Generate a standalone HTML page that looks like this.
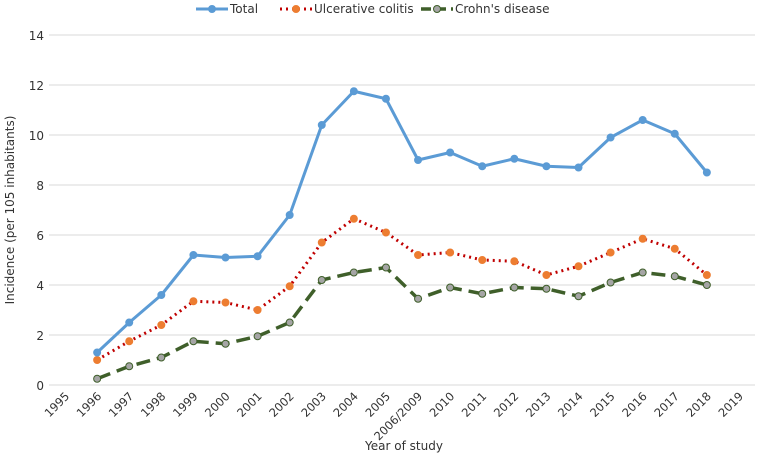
<!DOCTYPE html>
<html><head><meta charset="utf-8"><style>
body{margin:0;background:#fff;font-family:"Liberation Sans","DejaVu Sans",sans-serif;}
svg text{font-family:"DejaVu Sans","Liberation Sans",sans-serif;fill:#333;}
</style></head><body>
<svg id="c" width="758" height="456"></svg>
<script>
const categories=["1995","1996","1997","1998","1999","2000","2001","2002","2003","2004","2005","2006/2009","2010","2011","2012","2013","2014","2015","2016","2017","2018","2019"];
const totalValues=[null,1.3,2.5,3.6,5.2,5.1,5.15,6.8,10.4,11.75,11.45,9.0,9.3,8.75,9.05,8.75,8.7,9.9,10.6,10.05,8.5,null];
const ucValues=[null,1.0,1.75,2.4,3.35,3.3,3.0,3.95,5.7,6.65,6.1,5.2,5.3,5.0,4.95,4.4,4.75,5.3,5.85,5.45,4.4,null];
const cdValues=[null,0.25,0.75,1.1,1.75,1.65,1.95,2.5,4.2,4.5,4.7,3.45,3.9,3.65,3.9,3.85,3.55,4.1,4.5,4.35,4.0,null];
const yTicks=[0,2,4,6,8,10,12,14];
const NS="http://www.w3.org/2000/svg";
const svg=document.getElementById('c');
function el(t,a,p){const e=document.createElementNS(NS,t);for(const k in a)e.setAttribute(k,a[k]);(p||svg).appendChild(e);return e;}
const x0=49,x1=755,y0=385,y1=35;
const step=(x1-x0)/categories.length;
const xs=i=>x0+step*(i+0.5);
const ys=v=>y0-(v/14)*(y0-y1);
yTicks.forEach(v=>{
 const g=el('line',{x1:x0,x2:x1,y1:ys(v),y2:ys(v),stroke:'#d9d9d9','stroke-width':1});
 
 
 const t=el('text',{x:44,y:ys(v)+5,'text-anchor':'end','font-size':12});
 t.textContent=v;
 
 
});
categories.forEach((c,i)=>{
 const t=el('text',{transform:`translate(${xs(i)+5},${y0+12}) rotate(-45)`,'text-anchor':'end','font-size':11.5});
 t.textContent=c;
 
 
});
const xt=el('text',{x:404,y:450,'text-anchor':'middle','font-size':12});xt.textContent='Year of study';


const yt=el('text',{transform:'translate(14,210) rotate(-90)','text-anchor':'middle','font-size':12});yt.textContent='Incidence (per 105 inhabitants)';


function series(vals,color,dash,width,mfill,mstroke,name){
 let d='';vals.forEach((v,i)=>{if(v==null)return;d+=(d?'L':'M')+xs(i)+','+ys(v);});
 const p=el('path',{d:d,fill:'none',stroke:color,'stroke-width':width,'stroke-dasharray':dash,'stroke-linejoin':'round'});
 
 
 vals.forEach((v,i)=>{if(v==null)return;
  const c=el('circle',{cx:xs(i),cy:ys(v),r:3.5,fill:mfill,stroke:mstroke,'stroke-width':1});
  
  
 });
}
series(cdValues,'#3f5f2a','14 7',3.5,'#a5a5a5','#3f5f2a','crohns');
series(ucValues,'#c00000','2 4',3,'#ed7d31','#ed7d31','ulcerative-colitis');
series(totalValues,'#5b9bd5','',3,'#5b9bd5','#5b9bd5','total');
// legend
function leg(x,color,dash,mfill,mstroke,label,name,w){
 const g=el('g',{});
 
 
 el('line',{x1:x,x2:x+32,y1:9,y2:9,stroke:color,'stroke-width':w,'stroke-dasharray':dash},g);
 el('circle',{cx:x+16,cy:9,r:3.5,fill:mfill,stroke:mstroke},g);
 const t=el('text',{x:x+34,y:13,'font-size':12},g);t.textContent=label;
}
leg(196,'#5b9bd5','','#5b9bd5','#5b9bd5','Total','total',3);
leg(280,'#c00000','2 4','#ed7d31','#ed7d31','Ulcerative colitis','uc',3);
leg(421,'#3f5f2a','10 5','#a5a5a5','#3f5f2a',"Crohn's disease",'crohns',3.5);
</script>
</body></html>
